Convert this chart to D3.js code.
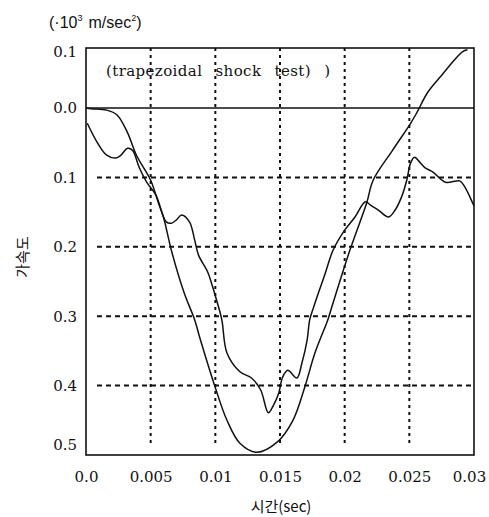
<!DOCTYPE html>
<html>
<head>
<meta charset="utf-8">
<script src="https://cdn.jsdelivr.net/npm/d3@7"></script>
<style>
body { margin: 0; background: #fff; }
svg text { fill: #111; }
</style>
</head>
<body>
<script>
// time (sec) / acceleration (x10^3 m/sec^2, drawn positive downward)
var smoothT = [0, 0.0004, 0.0016, 0.0024, 0.0032, 0.0039, 0.0050, 0.0056, 0.0060, 0.0066, 0.0076, 0.0084, 0.0088,
  0.0100, 0.0109, 0.0119, 0.0132, 0.0148, 0.0160, 0.0169, 0.0177, 0.0187, 0.0190, 0.0204, 0.0217, 0.0222,
  0.0237, 0.0251, 0.0256, 0.0264, 0.0274, 0.0291, 0.0295];
var smoothV = [0, 0.001, 0.003, 0.010, 0.035, 0.068, 0.104, 0.137, 0.158, 0.205, 0.267, 0.305, 0.331,
  0.403, 0.450, 0.483, 0.496, 0.481, 0.450, 0.403, 0.353, 0.305, 0.287, 0.205, 0.137, 0.104,
  0.061, 0.022, 0.006, -0.022, -0.045, -0.081, -0.084];

var measT = [0.0001, 0.00085, 0.0016, 0.0023, 0.0027, 0.0032, 0.0036, 0.0041, 0.0047, 0.0054, 0.0062, 0.0066,
  0.0070, 0.0074, 0.0080, 0.0084, 0.0087, 0.0094, 0.0097, 0.0101, 0.0105, 0.0109, 0.0119, 0.0128, 0.0135,
  0.0141, 0.0145, 0.0149, 0.0152, 0.0156, 0.0163, 0.0167, 0.0171, 0.0173, 0.0176, 0.0185, 0.0191, 0.0200,
  0.0208, 0.0216, 0.0220, 0.0226, 0.0234, 0.0239, 0.0244, 0.0248, 0.0251, 0.0254, 0.0258, 0.0262, 0.0268,
  0.0278, 0.0289, 0.0293, 0.0299, 0.0300];
var measV = [0.022, 0.049, 0.068, 0.072, 0.068, 0.058, 0.061, 0.085, 0.107, 0.125, 0.164, 0.166,
  0.161, 0.154, 0.164, 0.190, 0.212, 0.236, 0.252, 0.277, 0.305, 0.353, 0.380, 0.389, 0.406,
  0.439, 0.428, 0.411, 0.388, 0.378, 0.389, 0.367, 0.334, 0.305, 0.287, 0.238, 0.205, 0.176,
  0.157, 0.135, 0.140, 0.147, 0.157, 0.147, 0.128, 0.104, 0.079, 0.071, 0.078, 0.086, 0.092,
  0.107, 0.105, 0.114, 0.137, 0.141];

var xTicks = [0, 0.005, 0.01, 0.015, 0.02, 0.025, 0.03];
var xTickLabels = ['0.0', '0.005', '0.01', '0.015', '0.02', '0.025', '0.03'];
var yTop = -0.0865;
var yTicks = [yTop, 0, 0.1, 0.2, 0.3, 0.4, 0.5];
var yTickLabels = ['0.1', '0.0', '0.1', '0.2', '0.3', '0.4', '0.5'];

var SERIF = 'DejaVu Serif';
var margin = { left: 86, right: 15, top: 48, bottom: 62 };
var width = 489 - margin.left - margin.right;
var height = 517 - margin.top - margin.bottom;

var svg = d3.select('body').append('svg')
  .attr('width', 489)
  .attr('height', 517);

var g = svg.append('g').attr('transform', 'translate(' + margin.left + ',' + margin.top + ')');

var x = d3.scaleLinear().domain([0, 0.03]).range([0, width]);
var y = d3.scaleLinear().domain([yTop, 0.5]).range([0, height]);

// dashed grid
g.selectAll('.vgrid')
  .data(xTicks.slice(1, -1))
  .enter().append('line')
  .attr('x1', function(d) { return x(d); })
  .attr('x2', function(d) { return x(d); })
  .attr('y1', 0)
  .attr('y2', height - 8)
  .attr('stroke', '#111')
  .attr('stroke-width', 2)
  .attr('stroke-dasharray', '3,4');

g.selectAll('.hgrid')
  .data(yTicks.slice(2, -1))
  .enter().append('line')
  .attr('x1', 11)
  .attr('x2', width)
  .attr('y1', function(d) { return y(d); })
  .attr('y2', function(d) { return y(d); })
  .attr('stroke', '#111')
  .attr('stroke-width', 2)
  .attr('stroke-dasharray', '5,4');

// zero line
g.append('line')
  .attr('x1', 0).attr('x2', width)
  .attr('y1', y(0)).attr('y2', y(0))
  .attr('stroke', '#111')
  .attr('stroke-width', 1.5);

// frame
g.append('rect')
  .attr('width', width)
  .attr('height', height)
  .attr('fill', 'none')
  .attr('stroke', '#111')
  .attr('stroke-width', 1.6);

// axes (labels only)
var xAxis = d3.axisBottom(x).tickValues(xTicks).tickSize(0).tickPadding(16)
  .tickFormat(function(d, i) { return xTickLabels[i]; });
var xg = g.append('g').attr('transform', 'translate(0,' + height + ')').call(xAxis);

var yAxis = d3.axisLeft(y).tickValues(yTicks).tickSize(0).tickPadding(9)
  .tickFormat(function(d, i) { return yTickLabels[i]; });
var yg = g.append('g').call(yAxis);

[xg, yg].forEach(function(ag) {
  ag.attr('font-family', SERIF).attr('font-size', 15);
  ag.select('.domain').remove();
  ag.selectAll('text').attr('fill', '#111');
});
xg.selectAll('.tick').filter(function(d, i) { return i === xTicks.length - 1; }).select('text').attr('dx', -5);
yg.selectAll('.tick').filter(function(d, i) { return i === 0; }).select('text').attr('dy', '0.55em');
yg.selectAll('.tick').filter(function(d, i) { return i === yTicks.length - 1; }).select('text').attr('dy', '-0.35em');

// curves
var line = d3.line()
  .x(function(d) { return x(d[0]); })
  .y(function(d) { return y(d[1]); })
  .curve(d3.curveCatmullRom);

g.append('path')
  .datum(d3.zip(smoothT, smoothV))
  .attr('d', line)
  .attr('fill', 'none')
  .attr('stroke', '#111')
  .attr('stroke-width', 1.5);

g.append('path')
  .datum(d3.zip(measT, measV))
  .attr('d', line)
  .attr('fill', 'none')
  .attr('stroke', '#111')
  .attr('stroke-width', 1.5);

// titles
g.append('text')
  .attr('x', 20)
  .attr('y', 28)
  .attr('font-family', SERIF)
  .attr('font-size', 15)
  .attr('word-spacing', 8)
  .attr('letter-spacing', 0.4)
  .text('(trapezoidal shock test) )');

var unit = svg.append('text')
  .attr('x', 49)
  .attr('y', 28)
  .attr('font-family', 'Liberation Sans')
  .attr('font-size', 16);
unit.append('tspan').text('(\u00b710');
unit.append('tspan').attr('dy', -7).attr('font-size', 9).text('3');
unit.append('tspan').attr('dy', 7).attr('dx', 6).text('m/sec');
unit.append('tspan').attr('dy', -7).attr('font-size', 9).text('2');
unit.append('tspan').attr('dy', 7).text(')');

svg.append('text')
  .attr('transform', 'translate(28,257) rotate(-90)')
  .attr('text-anchor', 'middle')
  .attr('font-family', 'Noto Sans CJK KR')
  .attr('font-size', 15)
  .text('가속도');

svg.append('text')
  .attr('x', 281)
  .attr('y', 512)
  .attr('text-anchor', 'middle')
  .attr('font-family', 'Noto Sans CJK KR')
  .attr('font-size', 15)
  .text('시간(sec)');
</script>
</body>
</html>
